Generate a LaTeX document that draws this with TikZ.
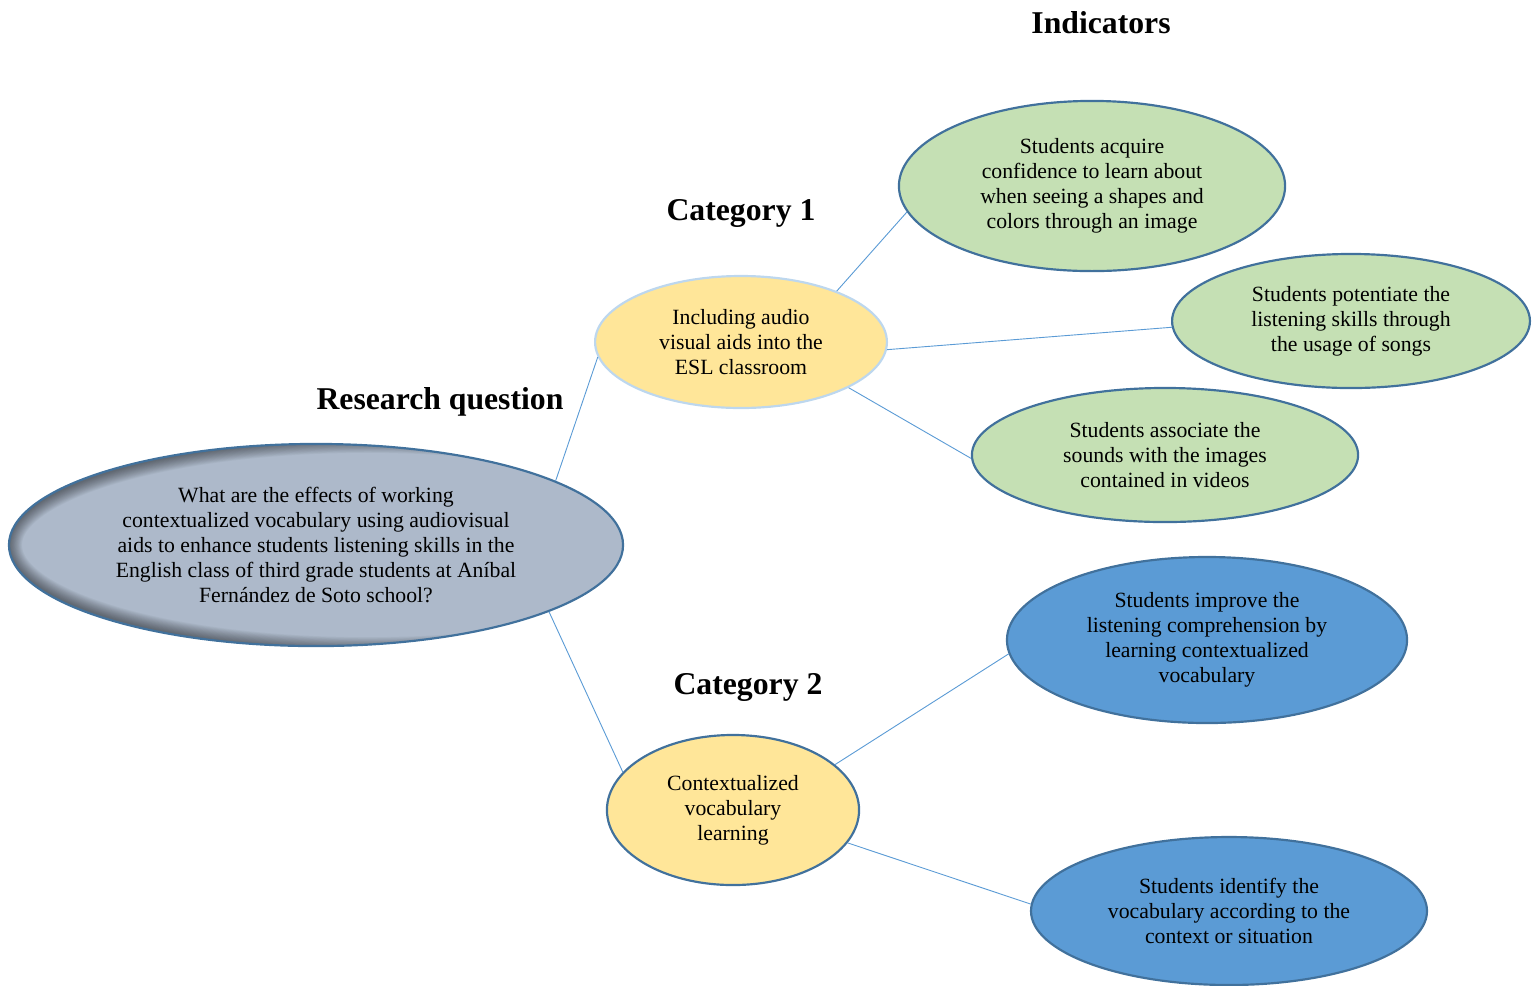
\documentclass[tikz,border=0pt]{standalone}
\usepackage{fontspec}
\setmainfont{Liberation Serif}
\usetikzlibrary{shapes.geometric}
\definecolor{qfill}{HTML}{ADB9CA}
\definecolor{cfill}{HTML}{FFE699}
\definecolor{gfill}{HTML}{C5E0B4}
\definecolor{bfill}{HTML}{5B9BD5}
\definecolor{edgeblue}{HTML}{41719C}
\definecolor{paleblue}{HTML}{BDD7EE}
\definecolor{linkblue}{HTML}{5B9BD5}

\begin{document}
\begin{tikzpicture}[x=0.0194cm,y=-0.0194cm]
\tikzstyle{bubble}=[ellipse, inner sep=0pt, align=center, draw=edgeblue, line width=1.2pt, font=\fontsize{12}{13.8}\selectfont]
\tikzstyle{category}=[bubble, fill=cfill]
\tikzstyle{indicator}=[bubble, fill=gfill]
\tikzstyle{indicatorb}=[bubble, fill=bfill]
\tikzstyle{heading}=[font=\fontsize{17.5}{20}\selectfont\bfseries]
\tikzstyle{connect}=[draw=linkblue, line width=0.5pt]
\tikzstyle{shade}=[path picture={
  \foreach \k in {1,...,16}
    \draw[black, opacity=0.03, line width=\k*0.9pt]
      ([xshift=1cm]path picture bounding box.center) ellipse (6.955cm and 2.04cm);}]
\useasboundingbox (0,0) rectangle (1539,985);
% research question
\node[bubble, shade, fill=qfill, minimum width=11.91cm, minimum height=3.92cm] (rq) at (316,545)
  {What are the effects of working\\ contextualized vocabulary using audiovisual\\ aids to enhance students listening skills in the\\ English class of third grade students at Aníbal\\ Fernández de Soto school?};
% categories
\node[category, draw=paleblue, minimum width=5.66cm, minimum height=2.56cm] (cat1) at (741,342)
  {Including audio\\ visual aids into the\\ ESL classroom};
\node[category, minimum width=4.89cm, minimum height=2.91cm] (cat2) at (733,810)
  {Contextualized\\ vocabulary\\ learning};
% indicators
\node[indicator, minimum width=7.49cm, minimum height=3.30cm] (ind1) at (1092,186)
  {Students acquire\\ confidence to learn about\\ when seeing a shapes and\\ colors through an image};
\node[indicator, minimum width=6.94cm, minimum height=2.60cm] (ind2) at (1351,321)
  {Students potentiate the\\ listening skills through\\ the usage of songs};
\node[indicator, minimum width=7.49cm, minimum height=2.60cm] (ind3) at (1165,455)
  {Students associate the\\ sounds with the images\\ contained in videos};
\node[indicatorb, minimum width=7.76cm, minimum height=3.22cm] (ind4) at (1207,640)
  {Students improve the\\ listening comprehension by\\ learning contextualized\\ vocabulary};
\node[indicatorb, minimum width=7.68cm, minimum height=2.87cm] (ind5) at (1229,911)
  {Students identify the\\ vocabulary according to the\\ context or situation};
% headings
\node[heading] (hind) at (1101,23) {Indicators};
\node[heading] (hcat1) at (741,213) {Category 1};
\node[heading] (hrq) at (440,402) {Research question};
\node[heading] (hcat2) at (748,687) {Category 2};
% links
\path[connect] (rq.15.6) -- (cat1.186)
  (rq.344.6) -- (cat2.161.3)
  (cat1.28.5) -- (ind1.188.2)
  (cat1.-3.9) -- (ind2.182.6)
  (cat1.-23.7) -- (ind3.181)
  (cat2.24.7) -- (ind4.184)
  (cat2.-16) -- (ind5.178.6);
\end{tikzpicture}
\end{document}
